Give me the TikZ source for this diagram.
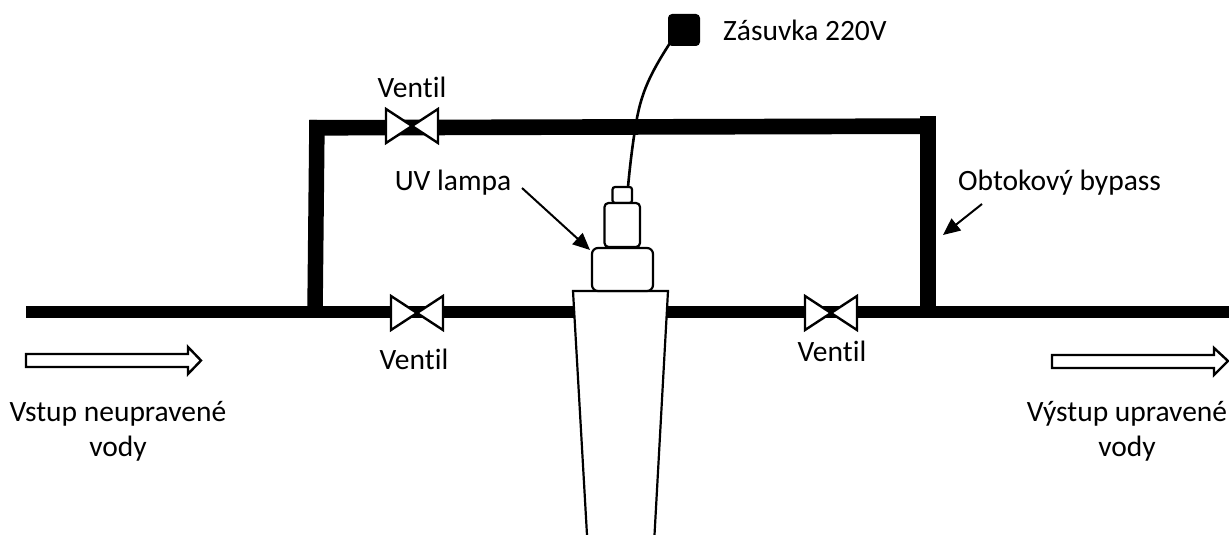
\documentclass[tikz,border=0pt]{standalone}
\usepackage{fontspec}
\setmainfont[RawFeature={-liga}]{Carlito}
\usetikzlibrary{arrows.meta}
\tikzset{
 x=1pt,y=-1pt,
 lbl/.style={font=\fontsize{29.5}{35}\selectfont,align=center,inner sep=0pt,text=black},
 pipe/.style={line width=12pt,black},
 bypass/.style={line width=15.5pt,black},
 part/.style={draw=black,line width=2.2pt,fill=white,rounded corners=4pt},
 valve/.style={draw=black,line width=2.4pt,fill=white,miter limit=10},
 flow/.style={draw=black,line width=2.4pt,fill=white},
 pointer/.style={line width=2pt,black,-{Triangle[length=17pt,width=15pt]}},
}
\begin{document}
\begin{tikzpicture}
\useasboundingbox (0,0) rectangle (1229,535);
% pipes
\coordinate (inL) at (26,312);
\coordinate (outR) at (1229,312);
\coordinate (tlB) at (315,312);
\coordinate (tlT) at (317,120);
\coordinate (trB) at (928,312);
\coordinate (trT) at (928,116);
\draw[pipe] (inL) -- (outR);
\draw[bypass] (tlB) -- (tlT);
\fill[black] (309.2,120) -- (928,118.3) -- (928,134) -- (309.2,135.6) -- cycle;
\draw[bypass] (trB) -- (trT);
% valves
\foreach \n/\cx/\cy/\w in {va/412/126/26,vb/417/313/26,vc/831/313/26}{
 \coordinate (\n) at (\cx,\cy);
 \draw[valve] (\cx-\w,\cy-17) -- (\cx,\cy) -- (\cx-\w,\cy+17) -- cycle;
 \draw[valve] (\cx+\w,\cy-17) -- (\cx,\cy) -- (\cx+\w,\cy+17) -- cycle;
}
% socket and cable
\node[fill=black,rounded corners=4pt,minimum width=32pt,minimum height=32pt,inner sep=0pt] (plug) at (684,30) {};
\coordinate (capT) at (628,187);
\draw[black,line width=2.6pt] (670,43) .. controls (650,74) and (642,92) .. (637,118) .. controls (633,140) and (630,165) .. (capT);
% well
\draw[draw=black,line width=2.2pt,fill=white] (587,535) -- (573,291) -- (668,291) -- (654.5,535);
% lamp
\draw[part,rounded corners=2.5pt] (612.5,187) rectangle (632,203);
\draw[part] (604.5,203) rectangle (640,247);
\draw[part,rounded corners=6pt] (592,248) rectangle (653,291);
\coordinate (lampTip) at (590,250);
% flow arrows
\draw[flow] (26,354) -- (188,354) -- (188,347) -- (201,360.5) -- (188,374) -- (188,367) -- (26,367) -- cycle;
\draw[flow] (1052,355) -- (1214,355) -- (1214,348) -- (1228,361) -- (1214,375) -- (1214,368) -- (1052,368) -- cycle;
% labels
\node[lbl] (t1) at (412,87) {Ventil};
\node[lbl] (t2) at (414,359) {Ventil};
\node[lbl] (t3) at (832,351) {Ventil};
\node[lbl,anchor=west] (t4) at (723,30) {Zásuvka 220V};
\node[lbl] (t5) at (453,183) {UV lampa};
\node[lbl,anchor=west] (t6) at (958,183) {Obtokový bypass};
\node[lbl] (t7) at (118,431) {Vstup neupravené\\vody};
\node[lbl] (t8) at (1127,431) {Výstup upravené\\vody};
% pointers
\coordinate (lampTail) at (522,188);
\coordinate (bypTail) at (982,204);
\coordinate (bypTip) at (943,235);
\draw[pointer] (lampTail) -- (lampTip);
\draw[pointer] (bypTail) -- (bypTip);
\end{tikzpicture}
\end{document}
